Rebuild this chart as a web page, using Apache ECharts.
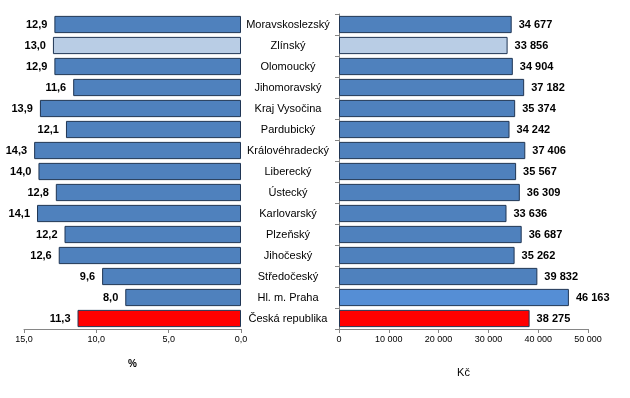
<!DOCTYPE html>
<html>
<head>
<meta charset="utf-8">
<script src="https://cdn.jsdelivr.net/npm/echarts@6/dist/echarts.min.js"></script>
<style>html,body{margin:0;padding:0;background:#fff}#c{width:630px;height:398px}</style>
</head>
<body>
<div id="c"></div>
<script>
const categories = ["Moravskoslezský","Zlínský","Olomoucký","Jihomoravský","Kraj Vysočina","Pardubický","Královéhradecký","Liberecký","Ústecký","Karlovarský","Plzeňský","Jihočeský","Středočeský","Hl. m. Praha","Česká republika"];
const percentValues = [12.9,13.0,12.9,11.6,13.9,12.1,14.3,14.0,12.8,14.1,12.2,12.6,9.6,8.0,11.3];
const wageValues = [34677,33856,34904,37182,35374,34242,37406,35567,36309,33636,36687,35262,39832,46163,38275];
const percentTicks = [0,5,10,15];
const wageTicks = [0,10000,20000,30000,40000,50000];

const BLUE = '#4F81BD', LIGHT = '#B9CDE5', RED = '#FF0000', PRAHA = '#558ED5', BORDER = '#1F3554';
function leftColor(i){ const c = categories[i]; if (c==='Zlínský') return LIGHT; if (c==='Česká republika') return RED; return BLUE; }
function rightColor(i){ const c = categories[i]; if (c==='Zlínský') return LIGHT; if (c==='Česká republika') return RED; if (c==='Hl. m. Praha') return PRAHA; return BLUE; }
const fmtPct = v => v.toFixed(1).replace('.', ',');
const fmtK = v => String(Math.round(v)).replace(/\B(?=(\d{3})+(?!\d))/g, ' ');

const chart = echarts.init(document.getElementById('c'), null, {renderer:'canvas'});
chart.setOption({
  animation:false,
  textStyle:{fontFamily:'Liberation Sans, Arial, sans-serif'},
  grid:[
    {left:24, right:389, top:14, bottom:69},
    {left:339, right:42, top:14, bottom:69}
  ],
  xAxis:[
    {gridIndex:0, type:'value', inverse:true, min:0, max:15, interval:5,
     splitLine:{show:false},
     axisLine:{show:true, lineStyle:{color:'#868686'}},
     axisTick:{show:true, length:4, lineStyle:{color:'#868686'}},
     axisLabel:{formatter:v=>fmtPct(v), fontSize:9, color:'#000', margin:6},
     name:'%', nameLocation:'middle', nameGap:30, nameTextStyle:{fontSize:10, fontWeight:'bold', color:'#000'}},
    {gridIndex:1, type:'value', min:0, max:50000, interval:10000,
     splitLine:{show:false},
     axisLine:{show:true, lineStyle:{color:'#868686'}},
     axisTick:{show:true, length:4, lineStyle:{color:'#868686'}},
     axisLabel:{formatter:v=>fmtK(v), fontSize:9, color:'#000', margin:6},
     name:'Kč', nameLocation:'middle', nameGap:38, nameTextStyle:{fontSize:11, color:'#000'}}
  ],
  yAxis:[
    {gridIndex:0, type:'category', inverse:true, data:categories,
     axisLine:{show:false}, axisTick:{show:false}, axisLabel:{show:false}},
    {gridIndex:1, type:'category', inverse:true, data:categories,
     axisLine:{show:true, lineStyle:{color:'#868686'}},
     axisTick:{show:true, length:4, lineStyle:{color:'#868686'}},
     axisLabel:{fontSize:11, color:'#000', align:'center', margin:51}}
  ],
  series:[
    {type:'bar', xAxisIndex:0, yAxisIndex:0, barCategoryGap:'18%',
     data: percentValues.map((v,i)=>({value:v, itemStyle:{color:leftColor(i)}})),
     itemStyle:{borderColor:BORDER, borderWidth:1},
     label:{show:true, position:'left', distance:7, formatter:p=>fmtPct(p.value), fontSize:11, fontWeight:'bold', color:'#000'}},
    {type:'bar', xAxisIndex:1, yAxisIndex:1, barCategoryGap:'18%',
     data: wageValues.map((v,i)=>({value:v, itemStyle:{color:rightColor(i)}})),
     itemStyle:{borderColor:BORDER, borderWidth:1},
     label:{show:true, position:'right', distance:7, formatter:p=>fmtK(p.value), fontSize:11, fontWeight:'bold', color:'#000'}}
  ]
});
</script>
</body>
</html>
